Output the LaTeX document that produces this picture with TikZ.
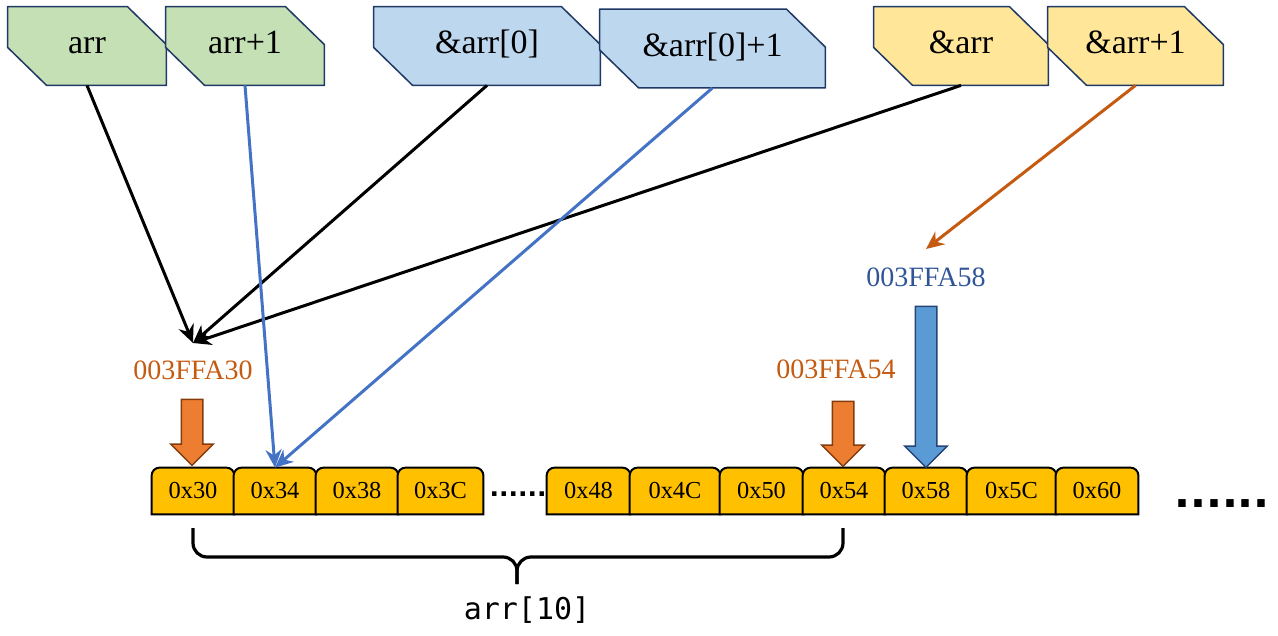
\documentclass[tikz,border=0pt]{standalone}
\usepackage{fontspec}
\setmainfont{Liberation Serif}
\newfontfamily\codefont{DejaVu Sans Mono}
\newfontfamily\dotfont{DejaVu Sans}
\usepackage{xcolor}
\usepackage{tikz}
\usetikzlibrary{arrows.meta, shapes.arrows, backgrounds}

\definecolor{ptrgreen}{HTML}{C5E0B4}
\definecolor{ptrblue}{HTML}{BDD7EE}
\definecolor{ptryellow}{HTML}{FFE699}
\definecolor{navyline}{HTML}{1F3864}
\definecolor{cellfill}{HTML}{FFC000}
\definecolor{linkblue}{HTML}{4472C4}
\definecolor{linkorange}{HTML}{C55A11}
\definecolor{addrblue}{HTML}{2F5597}
\definecolor{blockorange}{HTML}{ED7D31}
\definecolor{blockorangeline}{HTML}{843C0C}
\definecolor{blockblue}{HTML}{5B9BD5}
\definecolor{blockblueline}{HTML}{264478}

\begin{document}
\begin{tikzpicture}[
    x=0.5pt, y=-0.5pt,
    ptrbox/.style={
        rectangle,
        minimum height=39pt,
        text height=11.5pt,
        text depth=3.5pt,
        inner sep=0pt,
        font=\fontsize{17}{19}\selectfont
    },
    ptrline/.style={draw=navyline, line width=0.75pt, line join=round},
    cell/.style={
        rectangle,
        minimum width=41pt,
        minimum height=23pt,
        inner sep=0pt,
        font=\fontsize{12.2}{14}\selectfont
    },
    cellline/.style={fill=cellfill, draw=black, line width=1pt},
    addr/.style={font=\fontsize{14}{16}\selectfont},
    block/.style={
        single arrow,
        shape border rotate=270,
        line width=0.75pt,
        inner sep=5pt,
        minimum width=20.5pt,
        single arrow head extend=5.25pt,
        single arrow tip angle=90
    },
    arrow/.style={->, >={Stealth[length=9pt, width=8pt]}, line width=1.5pt},
    brace/.style={line width=1.6pt, rounded corners=7pt}
]
\useasboundingbox (0,0) rectangle (1278,636);

% pointer expressions
\node[ptrbox, minimum width=79pt] (arr) at (87,46) {arr};
\node[ptrbox, minimum width=79pt] (arrp) at (245,46) {arr+1};
\node[ptrbox, minimum width=113pt] (elem) at (487,46) {\&arr[0]};
\node[ptrbox, minimum width=112.5pt] (elemp) at (712.5,48.5) {\&arr[0]+1};
\node[ptrbox, minimum width=87pt] (whole) at (961,46) {\&arr};
\node[ptrbox, minimum width=87.5pt] (wholep) at (1135.5,46) {\&arr+1};
\begin{scope}[on background layer]
\foreach \b/\col in {arr/ptrgreen, arrp/ptrgreen, elem/ptrblue, elemp/ptrblue, whole/ptryellow, wholep/ptryellow}
    \draw[ptrline, fill=\col] (\b.north west) -- ([xshift=-19.5pt]\b.north east) -- ([yshift=-19pt]\b.north east)
        -- (\b.south east) -- ([xshift=19.5pt]\b.south west) -- ([yshift=19pt]\b.south west) -- cycle;
\end{scope}

% addresses
\node[addr, text=linkorange] (a30) at (193,370) {003FFA30};
\node[addr, text=linkorange] (a54) at (836,369) {003FFA54};
\node[addr, text=addrblue] (a58) at (926,277) {003FFA58};
\coordinate (t30) at (193,343);
\coordinate (t58) at (926,249);

% memory cells
\node[cell] (c30) at (193,491) {0x30};
\node[cell] (c34) at (275,491) {0x34};
\node[cell] (c38) at (357,491) {0x38};
\node[cell, minimum width=42.5pt] (c3C) at (440.5,491) {0x3C};
\node[cell, minimum width=41.5pt] (c48) at (588.5,491) {0x48};
\node[cell, minimum width=45pt] (c4C) at (675,491) {0x4C};
\node[cell, minimum width=41.5pt] (c50) at (761.5,491) {0x50};
\node[cell] (c54) at (844,491) {0x54};
\node[cell] (c58) at (926,491) {0x58};
\node[cell, minimum width=44.5pt] (c5C) at (1011.5,491) {0x5C};
\node[cell] (c60) at (1097,491) {0x60};
\begin{scope}[on background layer]
\foreach \c in {c30,c34,c38,c3C,c48,c4C,c50,c54,c58,c5C,c60}
    \draw[cellline] (\c.south west) [rounded corners=4pt] -- (\c.north west) -- (\c.north east) [sharp corners] -- (\c.south east) -- cycle;
\end{scope}

\node[font=\dotfont\bfseries\fontsize{12.5}{14}\selectfont, inner sep=0pt] (gap) at (518,494) {......};
\node[font=\dotfont\bfseries\fontsize{21}{22}\selectfont, inner sep=0pt] (more) at (1222,504) {......};

% block arrows
\node[block, fill=blockorange, draw=blockorangeline, minimum height=33pt] (down30) at (192,427) {};
\node[block, fill=blockorange, draw=blockorangeline, minimum height=32.5pt] (down54) at (843,428.5) {};
\node[block, fill=blockblue, draw=blockblueline, minimum height=80.5pt] (down58) at (926,381.5) {};

% pointers
\draw[arrow] (arr.south) -- (t30);
\draw[arrow] (elem.south) -- (t30);
\draw[arrow] (whole.south) -- (t30);
\draw[arrow, linkblue] (arrp.south) -- (c34.north);
\draw[arrow, linkblue] (elemp.south) -- (c34.north);
\draw[arrow, linkorange] (wholep.south) -- (t58);

% array extent
\draw[brace] (193,528) |- (517,557) -- (517,584);
\draw[brace] (843,528) |- (517,557) -- (517,584);
\node[font=\codefont\fontsize{15}{16}\selectfont] (arrlbl) at (527,610) {arr[10]};

\end{tikzpicture}
\end{document}
